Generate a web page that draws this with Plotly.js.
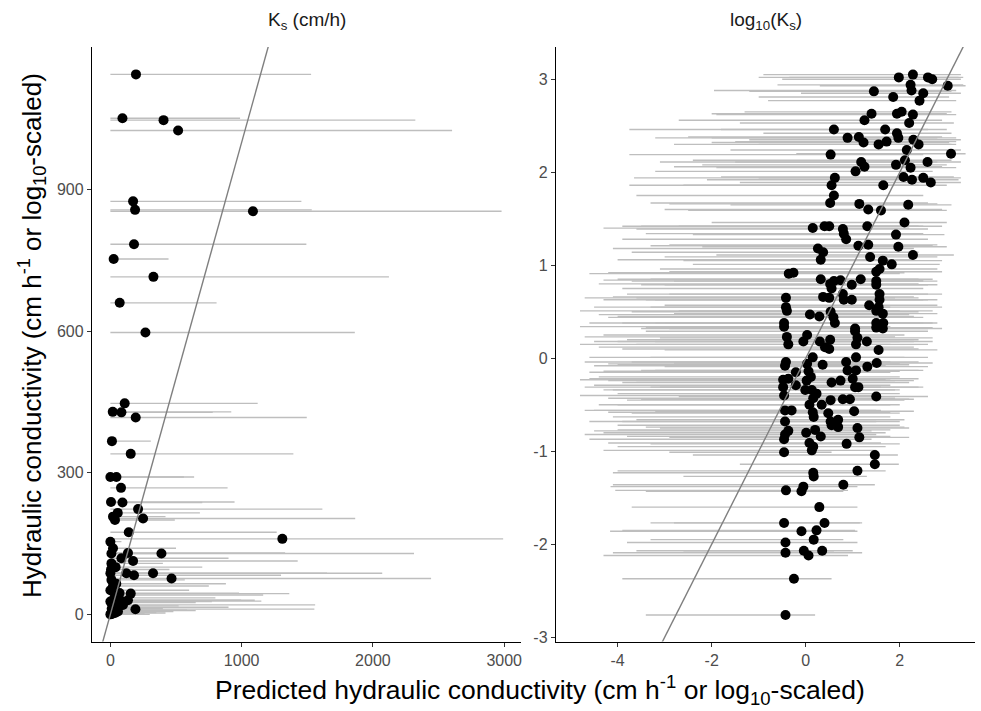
<!DOCTYPE html>
<html>
<head>
<meta charset="utf-8">
<script src="https://cdn.plot.ly/plotly-3.0.1.min.js"></script>
<style>html,body{margin:0;padding:0;background:#fff;}#chart{width:981px;height:711px;}</style>
</head>
<body>
<div id="chart"></div>
<script>
// Left panel: Ks (cm/h)
const leftPred = [195,92,405,516,173,188,1086,180,25,328,71,267,109,18,84,193,12,155,0,46,81,5,92,211,56,20,249,35,140,0,1310,8,134,389,84,173,8,0,122,180,325,466,8,0,155,46,134,0,96,191,20,0,58,30,15,60,40,10,70,25,5,12,35,20,45,70,20,40,5,90,50];
const leftObs  = [1144,1051,1047,1025,875,857,854,784,753,715,660,597,447,429,428,417,367,340,291,291,268,238,237,223,215,207,203,200,174,154,160,129,130,129,119,113,108,87,87,83,87,76,73,51,44,41,30,27,20,11,9,0,6,35,25,15,18,12,30,4,2,1,3,60,65,45,140,100,95,28,8];
const leftLo   = [0,0,0,0,0,0,0,0,0,0,0,0,0,0,0,0,0,0,0,0,0,0,0,0,0,0,0,0,0,0,0,0,0,0,0,0,0,0,0,0,0,0,0,0,0,0,0,0,0,0,0,0,0,0,0,0,0,0,0,0,0,0,0,0,0,0,0,0,0,0,0];
const leftHi   = [1529,988,2323,2603,1455,1534,2980,1493,443,2122,809,1862,1122,921,780,1496,308,1394,638,560,893,946,700,1615,682,420,1865,491,1267,84,2992,350,1331,2313,900,1427,400,300,2071,1300,1650,2443,567,600,1363,1164,996,773,1560,1554,583,300,480,800,650,900,520,400,1100,350,260,200,420,750,880,980,500,700,450,1150,650];

// Right panel: log10(Ks)
const rightPred = [1.98,2.28,2.60,2.69,3.02,2.23,2.25,1.45,2.50,1.86,
  2.42,1.40,2.04,1.94,2.28,1.25,2.20,0.60,1.69,1.94,
  1.97,0.89,1.13,1.23,1.55,1.72,2.29,2.40,2.15,3.09,
  0.53,2.11,1.18,2.59,1.25,1.92,2.23,1.06,0.62,2.08,
  2.26,2.50,2.66,0.55,1.65,0.60,0.52,1.14,1.33,1.60,
  2.18,2.10,0.15,0.40,0.50,0.79,1.31,0.81,1.92,0.86,
  1.12,1.33,1.97,0.26,0.37,2.28,1.37,0.32,1.64,1.83,
  1.57,1.50,-0.36,-0.26,0.32,0.60,0.74,1.17,1.50,0.52,
  0.98,1.50,0.55,-0.42,0.37,0.50,0.79,0.81,0.98,1.57,
  1.57,-0.42,-0.40,1.35,1.55,1.50,0.09,0.29,0.53,0.59,
  1.64,-0.46,0.62,1.05,1.50,1.65,-0.46,1.50,1.64,-0.40,
  0.03,-0.05,-0.37,0.30,0.52,0.41,0.50,1.05,1.10,1.07,
  1.30,1.55,0.15,1.07,-0.42,-0.44,0.03,0.36,0.86,1.31,
  1.51,-0.21,0.06,0.89,1.07,0.11,1.00,-0.48,-0.37,0.02,
  0.55,0.74,-0.21,-0.48,1.05,1.12,-0.01,0.13,-0.46,0.23,
  0.16,0.53,0.79,0.94,1.50,0.08,0.34,-0.44,-0.30,0.15,
  0.48,1.03,0.17,-0.44,0.53,0.69,0.55,0.69,-0.37,-0.44,
  0.01,0.20,0.32,1.10,1.14,-0.46,0.08,0.16,0.87,-0.46,
  0.13,1.47,1.47,1.10,0.16,0.17,0.80,-0.05,-0.09,-0.42,
  0.29,-0.46,0.40,-0.09,0.23,-0.43,0.17,-0.43,-0.04,0.06,
  0.35,-0.25,-0.43];
const rightObs = [3.02,3.05,3.02,3.00,2.93,2.94,2.88,2.87,2.85,2.81,
  2.77,2.63,2.65,2.63,2.62,2.56,2.53,2.46,2.46,2.42,
  2.37,2.37,2.38,2.32,2.30,2.33,2.35,2.30,2.24,2.20,
  2.19,2.13,2.11,2.11,2.06,2.08,2.05,2.01,1.94,1.95,
  1.92,1.94,1.89,1.86,1.86,1.75,1.67,1.66,1.60,1.59,
  1.65,1.46,1.40,1.42,1.42,1.39,1.42,1.34,1.33,1.28,
  1.21,1.22,1.20,1.18,1.14,1.11,1.09,1.06,1.05,1.01,
  0.96,0.93,0.91,0.92,0.85,0.83,0.84,0.85,0.83,0.80,
  0.79,0.79,0.75,0.65,0.66,0.65,0.69,0.63,0.63,0.69,
  0.63,0.55,0.51,0.57,0.55,0.51,0.47,0.45,0.50,0.44,
  0.48,0.38,0.38,0.32,0.38,0.38,0.34,0.33,0.32,0.23,
  0.25,0.18,0.15,0.18,0.20,0.12,0.10,0.29,0.22,0.15,
  0.18,0.09,0.01,0.01,-0.04,-0.08,-0.06,-0.07,-0.04,-0.09,
  -0.05,-0.15,-0.14,-0.13,-0.13,-0.20,-0.22,-0.23,-0.22,-0.24,
  -0.26,-0.24,-0.29,-0.31,-0.31,-0.31,-0.34,-0.34,-0.40,-0.38,
  -0.43,-0.45,-0.44,-0.44,-0.41,-0.50,-0.50,-0.56,-0.56,-0.58,
  -0.59,-0.57,-0.63,-0.68,-0.68,-0.66,-0.72,-0.74,-0.78,-0.82,
  -0.80,-0.77,-0.84,-0.75,-0.85,-0.87,-0.91,-0.95,-0.92,-1.01,
  -0.99,-1.04,-1.14,-1.21,-1.23,-1.27,-1.36,-1.38,-1.43,-1.42,
  -1.60,-1.77,-1.77,-1.86,-1.85,-1.98,-1.95,-2.09,-2.07,-2.12,
  -2.07,-2.37,-2.76];
const rightLo = [-0.35,-0.9,-1.0,-0.5,0.3,-0.6,-1.95,-1.2,-0.1,-1.0,
  -0.8,-2.0,-1.3,-0.5,-1.9,-2.7,-1.4,-3.75,-1.8,-0.9,
  -2.0,-3.2,-2.5,-2.0,-2.8,-1.5,-1.2,-1.0,-1.6,-0.2,
  -3.75,-2.4,-3.1,-1.5,-2.8,-2.2,-1.9,-3.2,-3.65,-1.8,
  -2.1,-1.0,-1.4,-3.75,-2.6,-3.6,-3.3,-2.9,-3.0,-2.5,
  -1.6,-2.0,-4.3,-3.5,-3.9,-3.6,-2.7,-3.4,-2.4,-3.9,
  -3.3,-2.9,-2.2,-4.1,-3.7,-1.9,-3.0,-4.0,-2.6,-2.4,
  -3.1,-2.9,-4.6,-4.2,-4.0,-3.7,-4.3,-3.3,-2.8,-4.4,
  -3.5,-3.0,-3.9,-4.7,-4.1,-3.6,-3.8,-4.3,-3.2,-2.9,
  -3.4,-4.5,-4.8,-3.0,-3.3,-2.7,-4.4,-4.0,-3.7,-4.2,
  -2.8,-4.6,-3.9,-3.5,-3.0,-3.2,-4.8,-3.4,-2.9,-4.7,
  -4.3,-4.5,-4.8,-4.0,-3.8,-4.4,-3.9,-3.4,-3.1,-3.6,
  -3.2,-3.0,-4.6,-3.3,-4.7,-4.5,-4.2,-4.0,-3.7,-3.0,
  -2.8,-4.6,-4.3,-3.5,-3.2,-4.4,-3.4,-4.8,-4.6,-4.2,
  -3.9,-3.6,-4.5,-4.7,-3.3,-3.1,-4.3,-4.1,-4.8,-4.0,
  -4.2,-3.8,-3.5,-3.3,-2.7,-4.4,-4.0,-4.7,-4.5,-4.2,
  -3.7,-3.2,-4.1,-4.6,-3.9,-3.6,-4.0,-3.4,-4.5,-4.7,
  -4.3,-4.0,-3.8,-3.1,-2.9,-4.6,-4.2,-4.0,-3.3,-2.9,
  -4.3,-2.4,-1.4,-4.0,-4.1,-2.6,-4.1,-4.15,-3.4,-4.05,
  -3.7,-3.3,-2.8,-4.16,-3.9,-3.8,-3.3,-4.1,-2.6,-4.3,
  -3.6,-3.9,-3.4];
const rightHi = [3.25,3.3,3.35,3.3,3.4,3.35,3.2,3.1,3.3,3.05,
  3.2,2.9,3.1,3.0,3.2,2.9,3.15,2.6,3.0,3.1,
  3.2,2.8,2.9,3.05,3.1,3.2,3.3,3.2,3.3,3.4,
  2.5,3.1,2.8,3.3,2.9,3.0,3.2,2.7,2.6,3.15,
  3.25,3.3,3.3,2.4,3.0,2.5,2.6,2.8,2.9,3.0,
  3.1,3.0,2.2,2.4,2.5,2.6,2.9,2.5,2.95,2.6,
  2.7,2.8,3.0,2.3,2.4,3.15,2.8,2.3,2.9,2.85,
  2.8,2.9,2.0,2.1,2.4,2.5,2.5,2.7,2.8,2.4,
  2.6,2.8,2.5,1.9,2.3,2.4,2.6,2.5,2.6,2.9,
  2.8,1.8,2.0,2.8,2.9,2.7,2.2,2.3,2.4,2.5,
  2.8,1.9,2.5,2.6,2.7,2.8,1.8,2.7,2.9,1.9,
  2.1,2.0,1.8,2.3,2.4,2.3,2.4,2.6,2.7,2.6,
  2.7,2.8,2.1,2.6,1.8,1.7,2.0,2.2,2.4,2.6,
  2.7,1.8,2.0,2.4,2.5,2.0,2.4,1.7,1.8,1.9,
  2.2,2.3,1.8,1.6,2.4,2.5,1.9,2.0,1.6,2.0,
  1.9,2.1,2.2,2.3,2.6,1.8,2.0,1.5,1.6,1.8,
  2.0,2.3,1.8,1.5,2.0,2.1,2.0,2.1,1.4,1.5,
  1.7,1.8,1.8,2.2,2.2,1.4,1.6,1.7,2.0,0.55,
  1.5,1.96,1.98,1.7,1.0,1.3,1.47,1.1,0.8,0.9,
  1.1,1.2,1.15,1.1,1.05,1.1,0.8,1.2,0.6,0.9,
  1.0,0.55,0.2];

const leftTicks = [0, 1000, 2000, 3000];
const leftYTicks = [0, 300, 600, 900];
const rightXTicks = [-4, -2, 0, 2];
const rightYTicks = [-3, -2, -1, 0, 1, 2, 3];

function segs(lo, hi, obs) {
  const x = [], y = [];
  for (let i = 0; i < obs.length; i++) {
    x.push(lo[i], hi[i], null);
    y.push(obs[i], obs[i], null);
  }
  return {x, y};
}

const segL = segs(leftLo, leftHi, leftObs);
const segR = segs(rightLo, rightHi, rightObs);

const rangeCol = '#bebebe';
const abCol = '#7f7f7f';
const FONT = 'Liberation Sans, Arial, sans-serif';

const traces = [
  {x: segL.x, y: segL.y, xaxis: 'x', yaxis: 'y', mode: 'lines', type: 'scatter',
   line: {color: rangeCol, width: 1.4}, hoverinfo: 'skip'},
  {x: leftPred, y: leftObs, xaxis: 'x', yaxis: 'y', mode: 'markers', type: 'scatter',
   marker: {color: '#000', size: 10}},
  {x: [-500, 5000], y: [-500, 5000], xaxis: 'x', yaxis: 'y', mode: 'lines', type: 'scatter',
   line: {color: abCol, width: 1.4}},
  {x: segR.x, y: segR.y, xaxis: 'x2', yaxis: 'y2', mode: 'lines', type: 'scatter',
   line: {color: rangeCol, width: 1.4}, hoverinfo: 'skip'},
  {x: rightPred, y: rightObs, xaxis: 'x2', yaxis: 'y2', mode: 'markers', type: 'scatter',
   marker: {color: '#000', size: 10}},
  {x: [-10, 10], y: [-10, 10], xaxis: 'x2', yaxis: 'y2', mode: 'lines', type: 'scatter',
   line: {color: abCol, width: 1.4}}
];

const W = 981, H = 711;
const axBase = {
  showline: true, linecolor: '#000', linewidth: 1.2, mirror: false,
  showgrid: false, zeroline: false,
  ticks: 'outside', ticklen: 4, tickwidth: 1, tickcolor: '#333',
  tickfont: {family: FONT, size: 16, color: '#4d4d4d'},
  fixedrange: true
};

const yTop = 1 - 47 / H, yBot = 1 - 641.5 / H;

const layout = {
  width: W, height: H,
  margin: {l: 0, r: 0, t: 0, b: 0},
  paper_bgcolor: '#fff', plot_bgcolor: '#fff',
  showlegend: false,
  font: {family: FONT},
  xaxis: Object.assign({}, axBase, {domain: [92 / W, 521 / W], range: [-140, 3128],
    tickvals: leftTicks, ticktext: leftTicks.map(String), anchor: 'y'}),
  yaxis: Object.assign({}, axBase, {domain: [yBot, yTop], range: [-57.5, 1202],
    tickvals: leftYTicks, ticktext: leftYTicks.map(String), anchor: 'x'}),
  xaxis2: Object.assign({}, axBase, {domain: [556 / W, 975 / W], range: [-5.31, 3.6],
    tickvals: rightXTicks, ticktext: rightXTicks.map(String), anchor: 'y2'}),
  yaxis2: Object.assign({}, axBase, {domain: [yBot, yTop], range: [-3.045, 3.347],
    tickvals: rightYTicks, ticktext: rightYTicks.map(String), anchor: 'x2'}),
  annotations: [
    {text: 'K<sub>s</sub> (cm/h)', x: (92 + 521) / 2 / W, y: 1 - 21 / H, xref: 'paper', yref: 'paper',
     showarrow: false, xanchor: 'center', yanchor: 'middle',
     font: {size: 19, color: '#1a1a1a', family: FONT}},
    {text: 'log<sub>10</sub>(K<sub>s</sub>)', x: (556 + 975) / 2 / W, y: 1 - 21 / H, xref: 'paper', yref: 'paper',
     showarrow: false, xanchor: 'center', yanchor: 'middle',
     font: {size: 19, color: '#1a1a1a', family: FONT}},
    {text: 'Predicted hydraulic conductivity (cm h<sup>-1</sup> or log<sub>10</sub>-scaled)',
     x: 540 / W, y: 1 - 690 / H, xref: 'paper', yref: 'paper',
     showarrow: false, xanchor: 'center', yanchor: 'middle',
     font: {size: 26.5, color: '#000', family: FONT}},
    {text: 'Hydraulic conductivity (cm h<sup>-1</sup> or log<sub>10</sub>-scaled)',
     x: 32 / W, y: 1 - 336 / H, xref: 'paper', yref: 'paper', textangle: -90,
     showarrow: false, xanchor: 'center', yanchor: 'middle',
     font: {size: 26, color: '#000', family: FONT}}
  ]
};

Plotly.newPlot('chart', traces, layout, {staticPlot: true, displayModeBar: false});
</script>
</body>
</html>
